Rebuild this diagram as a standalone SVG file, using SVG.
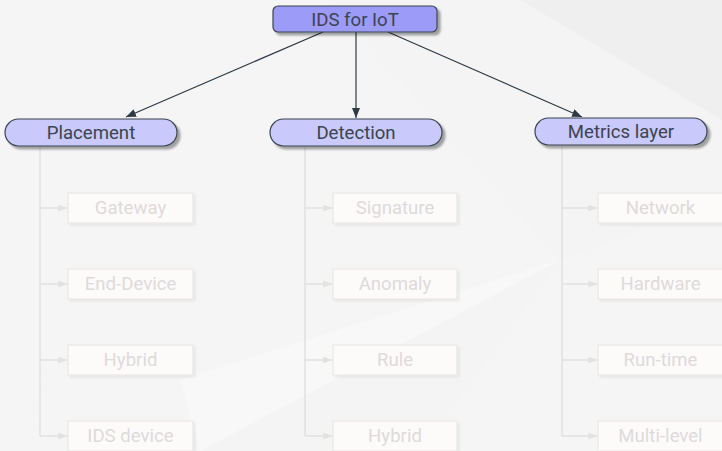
<svg xmlns="http://www.w3.org/2000/svg" width="722" height="451" viewBox="0 0 722 451">
<defs>
<marker id="ah" viewBox="0 0 10 8" refX="10" refY="4" markerWidth="10" markerHeight="8" markerUnits="userSpaceOnUse" orient="auto">
<path d="M0,0 L10,4 L0,8 Z" fill="#2e3a46"/>
</marker>
<marker id="ahl" viewBox="0 0 10 8" refX="10" refY="4" markerWidth="9" markerHeight="7" markerUnits="userSpaceOnUse" orient="auto">
<path d="M0,0 L10,4 L0,8 Z" fill="#e2e2e2"/>
</marker>
<filter id="sh" x="-10%" y="-30%" width="130%" height="170%">
<feGaussianBlur in="SourceAlpha" stdDeviation="1"/>
<feOffset dx="3" dy="3" result="o"/>
<feComponentTransfer><feFuncA type="linear" slope="0.35"/></feComponentTransfer>
<feMerge><feMergeNode/><feMergeNode in="SourceGraphic"/></feMerge>
</filter>
<filter id="shl" x="-10%" y="-30%" width="130%" height="170%">
<feGaussianBlur in="SourceAlpha" stdDeviation="1"/>
<feOffset dx="2" dy="2" result="o"/>
<feComponentTransfer><feFuncA type="linear" slope="0.06"/></feComponentTransfer>
<feMerge><feMergeNode/><feMergeNode in="SourceGraphic"/></feMerge>
</filter>
</defs>
<style>
text{font-family:Roboto,"Liberation Sans",sans-serif;font-size:18.6px;text-anchor:middle;dominant-baseline:central}
.t{fill:#3a4450}
.tl{fill:#dedada}
.root{fill:#9c9cf8;stroke:#3a4450;stroke-width:1.2}
.l1{fill:#c9c9fb;stroke:#3a4450;stroke-width:1.2}
.l2{fill:#fdfafa;stroke:#ebe6e6;stroke-width:1.2}
.ed{stroke:#2e3a46;stroke-width:1.2;fill:none}
.br{stroke:#e0e0e0;stroke-width:1.5;fill:none}
</style>
<rect width="722" height="451" fill="#efefef"/>
<g opacity="0.6" fill="#fafafa">
<polygon points="0,0 110,0 30,451 0,451"/>
<polygon points="110,0 330,0 560,260 200,451 30,451"/>
<polygon points="560,260 722,200 722,451 420,451"/>
</g>
<g opacity="0.35" fill="#ffffff">
<polygon points="180,380 560,260 420,451 200,451"/>
<polygon points="330,0 520,0 722,120 722,200 560,260"/>
</g>
<g id="connectors">
<line class="ed" x1="323" y1="32" x2="126" y2="117" marker-end="url(#ah)"/>
<line class="ed" x1="356" y1="32" x2="356" y2="118" marker-end="url(#ah)"/>
<line class="ed" x1="388" y1="32" x2="582" y2="117" marker-end="url(#ah)"/>
<path class="br" d="M40,146 V436"/>
<path class="br" d="M305,147 V436"/>
<path class="br" d="M562,147 V436"/>
<g>
<line class="br" x1="40" y1="208" x2="67" y2="208" marker-end="url(#ahl)"/>
<line class="br" x1="40" y1="284" x2="67" y2="284" marker-end="url(#ahl)"/>
<line class="br" x1="40" y1="360" x2="67" y2="360" marker-end="url(#ahl)"/>
<line class="br" x1="40" y1="436" x2="67" y2="436" marker-end="url(#ahl)"/>
<line class="br" x1="305" y1="208" x2="332" y2="208" marker-end="url(#ahl)"/>
<line class="br" x1="305" y1="284" x2="332" y2="284" marker-end="url(#ahl)"/>
<line class="br" x1="305" y1="360" x2="332" y2="360" marker-end="url(#ahl)"/>
<line class="br" x1="305" y1="436" x2="332" y2="436" marker-end="url(#ahl)"/>
<line class="br" x1="562" y1="208" x2="597" y2="208" marker-end="url(#ahl)"/>
<line class="br" x1="562" y1="284" x2="597" y2="284" marker-end="url(#ahl)"/>
<line class="br" x1="562" y1="360" x2="597" y2="360" marker-end="url(#ahl)"/>
<line class="br" x1="562" y1="436" x2="597" y2="436" marker-end="url(#ahl)"/>
</g>
</g>
<g id="root"><rect class="root" x="273" y="6" width="164" height="26" rx="5" filter="url(#sh)"/><text class="t" x="355" y="19.5">IDS for IoT</text></g>
<g id="placement"><rect class="l1" x="5" y="119" width="172" height="27" rx="13.5" filter="url(#sh)"/><text class="t" x="91" y="132.5">Placement</text></g>
<g id="detection"><rect class="l1" x="270" y="119" width="172" height="27" rx="13.5" filter="url(#sh)"/><text class="t" x="356" y="132.5">Detection</text></g>
<g id="metrics"><rect class="l1" x="535" y="118" width="172" height="27" rx="13.5" filter="url(#sh)"/><text class="t" x="621" y="131.5">Metrics layer</text></g>
<g id="gateway"><rect class="l2" x="68" y="193" width="125" height="30" filter="url(#shl)"/><text class="tl" x="130.5" y="208">Gateway</text></g>
<g id="enddevice"><rect class="l2" x="68" y="269" width="125" height="30" filter="url(#shl)"/><text class="tl" x="130.5" y="284">End-Device</text></g>
<g id="hybrid1"><rect class="l2" x="68" y="345" width="125" height="30" filter="url(#shl)"/><text class="tl" x="130.5" y="360">Hybrid</text></g>
<g id="idsdevice"><rect class="l2" x="68" y="421" width="125" height="30" filter="url(#shl)"/><text class="tl" x="130.5" y="436">IDS device</text></g>
<g id="signature"><rect class="l2" x="333" y="193" width="124" height="30" filter="url(#shl)"/><text class="tl" x="395" y="208">Signature</text></g>
<g id="anomaly"><rect class="l2" x="333" y="269" width="124" height="30" filter="url(#shl)"/><text class="tl" x="395" y="284">Anomaly</text></g>
<g id="rule"><rect class="l2" x="333" y="345" width="124" height="30" filter="url(#shl)"/><text class="tl" x="395" y="360">Rule</text></g>
<g id="hybrid2"><rect class="l2" x="333" y="421" width="124" height="30" filter="url(#shl)"/><text class="tl" x="395" y="436">Hybrid</text></g>
<g id="network"><rect class="l2" x="598" y="193" width="125" height="30" filter="url(#shl)"/><text class="tl" x="660.5" y="208">Network</text></g>
<g id="hardware"><rect class="l2" x="598" y="269" width="125" height="30" filter="url(#shl)"/><text class="tl" x="660.5" y="284">Hardware</text></g>
<g id="runtime"><rect class="l2" x="598" y="345" width="125" height="30" filter="url(#shl)"/><text class="tl" x="660.5" y="360">Run-time</text></g>
<g id="multilevel"><rect class="l2" x="598" y="421" width="125" height="30" filter="url(#shl)"/><text class="tl" x="660.5" y="436">Multi-level</text></g>
</svg>
